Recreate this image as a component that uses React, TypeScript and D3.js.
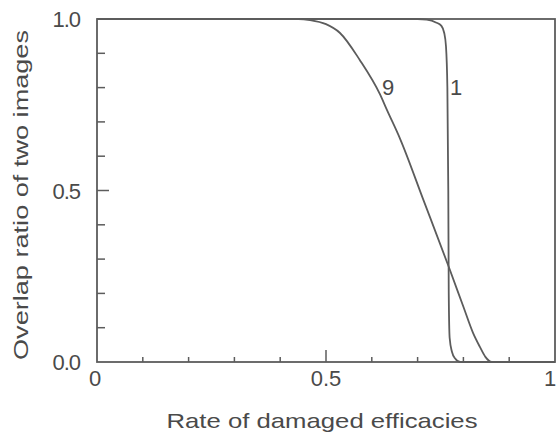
import { useMemo } from "react";
import * as d3 from "d3";

// curve "1" (x = rate of damaged efficacies, y = overlap ratio)
const curve1X = [0, 0.7, 0.72, 0.74, 0.752, 0.758, 0.762, 0.765, 0.767, 0.768, 0.77, 0.775, 0.782, 0.793, 1];
const curve1Y = [1, 1, 0.998, 0.99, 0.98, 0.96, 0.92, 0.8, 0.5, 0.2, 0.07, 0.03, 0.01, 0, 0];

// curve "9"
const curve9X = [0, 0.44, 0.465, 0.5, 0.53, 0.574, 0.618, 0.633, 0.662, 0.712, 0.769, 0.8, 0.821, 0.836, 0.848, 0.862, 1];
const curve9Y = [1, 1, 0.997, 0.985, 0.96, 0.88, 0.78, 0.735, 0.65, 0.475, 0.274, 0.161, 0.085, 0.044, 0.015, 0, 0];

const xTickLabels = ["0", "0.5", "1"];
const xTickLabelValues = [0, 0.5, 1];
const yTickLabels = ["0.0", "0.5", "1.0"];
const yTickLabelValues = [0, 0.5, 1];
const minorTicks = [0.1, 0.2, 0.3, 0.4, 0.5, 0.6, 0.7, 0.8, 0.9];

const width = 557;
const height = 432;
const margin = { top: 19, right: 2, bottom: 70, left: 97 };

const ink = "#4a4a4a";
const lineColor = "#5c5c5c";
const font = "'Liberation Sans', Arial, sans-serif";

export default function App() {
  const x = d3.scaleLinear().domain([0, 1]).range([margin.left, width - margin.right]);
  const y = d3.scaleLinear().domain([0, 1]).range([height - margin.bottom, margin.top]);

  const line = d3
    .line<[number, number]>()
    .x((d) => x(d[0]))
    .y((d) => y(d[1]))
    .curve(d3.curveMonotoneX);

  const paths = useMemo(
    () => [
      { name: "1", d: line(curve1X.map((v, i) => [v, curve1Y[i]] as [number, number])) },
      { name: "9", d: line(curve9X.map((v, i) => [v, curve9Y[i]] as [number, number])) },
    ],
    []
  );

  const [x0, x1] = x.range();
  const [y0, y1] = y.range();

  // keep the last x label inside the picture, as in the scan
  const xLabelShift = [-2, 0, -5];

  return (
    <svg
      width={width}
      height={height}
      style={{ position: "absolute", left: 0, top: 0, background: "#fff" }}
      fontFamily={font}
    >
      {/* frame */}
      <rect x={x0} y={y1} width={x1 - x0} height={y0 - y1} fill="none" stroke={lineColor} strokeWidth={1.8} />

      {/* ticks pointing inward */}
      {minorTicks.map((t) => (
        <line
          key={"xt" + t}
          x1={x(t)}
          x2={x(t)}
          y1={y0}
          y2={y0 - (t === 0.5 ? 12 : 5)}
          stroke={lineColor}
          strokeWidth={1.5}
        />
      ))}
      {minorTicks.map((t) => (
        <line
          key={"yt" + t}
          x1={x0}
          x2={x0 + (t === 0.5 ? 12 : 8)}
          y1={y(t)}
          y2={y(t)}
          stroke={lineColor}
          strokeWidth={1.5}
        />
      ))}

      {/* curves */}
      {paths.map((p) => (
        <path key={p.name} d={p.d ?? ""} fill="none" stroke={lineColor} strokeWidth={1.8} />
      ))}

      {/* curve labels */}
      <text x={388} y={95} fontSize={22} fill={ink} textAnchor="middle">9</text>
      <text x={456} y={95} fontSize={22} fill={ink} textAnchor="middle">1</text>

      {/* tick labels */}
      {xTickLabels.map((s, i) => (
        <text key={s} x={x(xTickLabelValues[i]) + xLabelShift[i]} y={386} fontSize={22} fill={ink} textAnchor="middle">
          {s}
        </text>
      ))}
      {yTickLabels.map((s, i) => (
        <text
          key={s}
          x={80}
          y={y(yTickLabelValues[i]) + 8}
          fontSize={22}
          fill={ink}
          textAnchor="end"
          letterSpacing={-1}
        >
          {s}
        </text>
      ))}

      {/* axis titles */}
      <text x={322} y={428} fontSize={21} fill={ink} textAnchor="middle" textLength={311} lengthAdjust="spacingAndGlyphs">
        Rate of damaged efficacies
      </text>
      <text
        transform={`translate(28,${195}) rotate(-90)`}
        fontSize={21}
        fill={ink}
        textAnchor="middle"
        textLength={330}
        lengthAdjust="spacingAndGlyphs"
      >
        Overlap ratio of two images
      </text>
    </svg>
  );
}
